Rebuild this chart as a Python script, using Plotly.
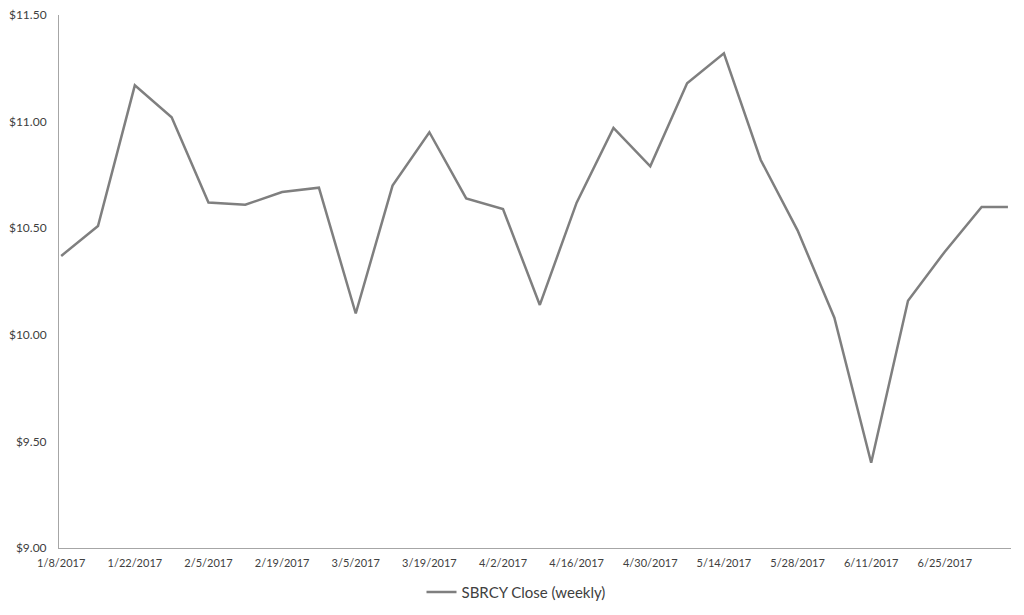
import plotly.graph_objects as go

dates = ["2017-01-08", "2017-01-15", "2017-01-22", "2017-01-29", "2017-02-05", "2017-02-12",
         "2017-02-19", "2017-02-26", "2017-03-05", "2017-03-12", "2017-03-19", "2017-03-26",
         "2017-04-02", "2017-04-09", "2017-04-16", "2017-04-23", "2017-04-30", "2017-05-07",
         "2017-05-14", "2017-05-21", "2017-05-28", "2017-06-04", "2017-06-11", "2017-06-18",
         "2017-06-25", "2017-07-02", "2017-07-07"]
close = [10.37, 10.51, 11.17, 11.02, 10.62, 10.61,
         10.67, 10.69, 10.10, 10.70, 10.95, 10.64,
         10.59, 10.14, 10.62, 10.97, 10.79, 11.18,
         11.32, 10.82, 10.49, 10.08, 9.40, 10.16,
         10.39, 10.60, 10.60]

tick_dates = ["2017-01-08", "2017-01-22", "2017-02-05", "2017-02-19", "2017-03-05", "2017-03-19",
              "2017-04-02", "2017-04-16", "2017-04-30", "2017-05-14", "2017-05-28", "2017-06-11",
              "2017-06-25"]
tick_labels = ["1/8/2017", "1/22/2017", "2/5/2017", "2/19/2017", "3/5/2017", "3/19/2017",
               "4/2/2017", "4/16/2017", "4/30/2017", "5/14/2017", "5/28/2017", "6/11/2017",
               "6/25/2017"]

fam = "Lato, Open Sans, sans-serif"

fig = go.Figure()
fig.add_trace(go.Scatter(x=dates, y=close, mode="lines", name="SBRCY Close (weekly)",
                         line=dict(color="#7f7f7f", width=2.5)))

fig.update_layout(
    width=1016, height=607,
    margin=dict(l=51, r=13, t=7, b=67, autoexpand=False),
    paper_bgcolor="white", plot_bgcolor="white",
    font=dict(family=fam, size=12, color="#404040"),
    showlegend=True,
    legend=dict(orientation="h", xref="container", x=0.5, xanchor="center",
                y=-0.083, yanchor="middle", itemwidth=30,
                font=dict(family=fam, size=15, color="#404040")),
    xaxis=dict(type="date", range=["2017-01-07 14:00", "2017-07-07 14:00"],
               tickvals=tick_dates, ticktext=tick_labels, showgrid=False,
               showline=True, linecolor="#a6a6a6", linewidth=1, ticks="",
               zeroline=False, ticklabelstandoff=5, automargin=False,
               ticklabeloverflow="allow",
               tickfont=dict(family=fam, size=11, color="#404040")),
    yaxis=dict(range=[9.0, 11.5], dtick=0.5, tickformat="$.2f", showgrid=False,
               showline=True, linecolor="#a6a6a6", linewidth=1, ticks="",
               zeroline=False, ticklabelstandoff=9, automargin=False,
               ticklabeloverflow="allow",
               tickfont=dict(family=fam, size=12, color="#404040")),
)

fig.write_html("out.html")
